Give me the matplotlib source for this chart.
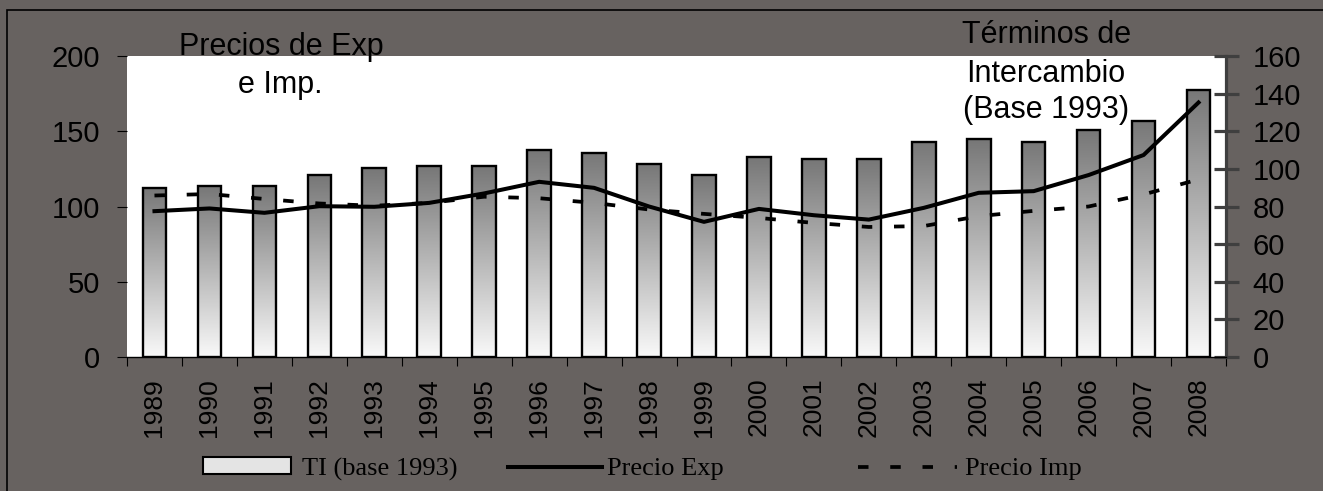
import matplotlib
matplotlib.use("Agg")
import matplotlib.pyplot as plt
import numpy as np
from matplotlib.colors import LinearSegmentedColormap
from matplotlib.patches import Patch, Rectangle
from matplotlib.lines import Line2D

# --- data ---
years = ["1989", "1990", "1991", "1992", "1993", "1994", "1995", "1996", "1997", "1998",
         "1999", "2000", "2001", "2002", "2003", "2004", "2005", "2006", "2007", "2008"]
ti_base93 = [89.6, 90.8, 90.8, 96.7, 100.3, 101.5, 101.5, 110.0, 108.6, 102.8,
             96.7, 106.3, 105.2, 105.2, 114.5, 115.7, 114.5, 120.5, 125.5, 142.0]
precio_exp = [96.9, 98.7, 95.8, 100.2, 99.8, 102.4, 108.7, 116.4, 112.4, 100.0,
              89.8, 98.4, 94.2, 91.3, 99.1, 109.1, 110.2, 120.9, 134.2, 169.1]
precio_imp = [107.3, 108.3, 105.0, 102.0, 100.5, 102.4, 106.5, 105.5, 102.4, 98.0,
              95.1, 92.4, 89.1, 86.4, 87.0, 93.6, 97.1, 100.0, 108.0, 118.0]
left_ticks = [0, 50, 100, 150, 200]
right_ticks = [0, 20, 40, 60, 80, 100, 120, 140, 160]

W, H = 1323, 491
BG = "#676260"
SPINE = "#3f3f3f"
sans = ["Liberation Sans", "DejaVu Sans"]
serif = ["Liberation Serif", "DejaVu Serif"]


def fx(x):
    return x / W


def fy(y):
    return 1 - y / H


fig = plt.figure(figsize=(W / 100, H / 100), dpi=100, facecolor=BG)
# outer frame line
fig.patches.append(Rectangle((fx(7), -0.2), 2, fy(10) + 0.2, transform=fig.transFigure,
                             fill=False, edgecolor="black", lw=1.2))

ax_bar = fig.add_axes([fx(127), fy(357), fx(1226) - fx(127), fy(56) - fy(357)])
ax_bar.set_facecolor("white")
ax_line = ax_bar.twinx()

x = np.arange(len(years))
bw = 0.43

# bars with a vertical grey gradient (dark top, light bottom)
cmap = LinearSegmentedColormap.from_list("g", ["#f9f9f9", "#777777"])
grad = np.linspace(0, 1, 256).reshape(-1, 1)
bars = ax_bar.bar(x, ti_base93, width=bw, facecolor="none", edgecolor="black", lw=1.7, zorder=3)
for b in bars:
    x0, y0 = b.get_x(), b.get_y()
    im = ax_bar.imshow(grad, cmap=cmap, origin="lower", aspect="auto", zorder=2,
                       extent=[x0, x0 + b.get_width(), y0, y0 + b.get_height()])
    im.set_clip_path(b)

ax_bar.set_xlim(-0.5, len(years) - 0.5)
ax_bar.set_ylim(0, 160)
ax_line.set_ylim(0, 200)

# lines on the left axis
ax_line.plot(x, precio_exp, color="black", lw=2.9, solid_joinstyle="round")
ax_line.plot(x, precio_imp, color="black", lw=2.7, dashes=(2.8, 5.8))

# right axis -> bars
ax_bar.yaxis.tick_right()
ax_bar.set_yticks(right_ticks)
ax_bar.tick_params(axis="y", direction="inout", length=18, width=2.3, color=SPINE,
                   pad=10, labelsize=21)
for lab in ax_bar.get_yticklabels():
    lab.set_family(sans)

# left axis -> lines
ax_line.yaxis.tick_left()
ax_line.set_yticks(left_ticks)
ax_line.tick_params(axis="y", direction="out", length=7.5, width=0.8, color="black",
                    pad=12, labelsize=21)
for lab in ax_line.get_yticklabels():
    lab.set_family(sans)

# x axis: ticks on category borders, labels at centres
ax_bar.set_xticks(np.arange(-0.5, len(years), 1))
ax_bar.set_xticklabels([])
ax_bar.set_xticks(x, minor=True)
ax_bar.set_xticklabels(years, minor=True, rotation=90, family=sans, fontsize=19)
ax_bar.tick_params(axis="x", which="major", direction="out", length=6.5, width=0.8)
ax_bar.tick_params(axis="x", which="minor", length=0, pad=15)

for a in (ax_bar, ax_line):
    for side in ("top", "left", "right", "bottom"):
        a.spines[side].set_visible(False)
ax_bar.spines["bottom"].set_visible(True)
ax_bar.spines["bottom"].set_linewidth(1.0)
ax_bar.spines["right"].set_visible(True)
ax_bar.spines["right"].set_color(SPINE)
ax_bar.spines["right"].set_linewidth(2.3)

# annotations
fs_ann = 22
fig.text(fx(281), fy(55), "Precios de Exp", ha="center", va="baseline", fontsize=fs_ann, family=sans)
fig.text(fx(280), fy(93), "e Imp.", ha="center", va="baseline", fontsize=fs_ann, family=sans)
fig.text(fx(1047), fy(43), "Términos de", ha="center", va="baseline", fontsize=fs_ann, family=sans)
fig.text(fx(1046), fy(82), "Intercambio", ha="center", va="baseline", fontsize=fs_ann, family=sans)
fig.text(fx(1046), fy(118), "(Base 1993)", ha="center", va="baseline", fontsize=fs_ann, family=sans)

# legend, one entry at a time so the gaps follow the reference
fs_leg = 19
em = fs_leg * 100 / 72
entries = [
    (Patch(facecolor="#e4e4e4", edgecolor="black", lw=1.5), "TI (base 1993)", 203, 88, 11),
    (Line2D([], [], color="black", lw=2.9), "Precio Exp", 508, 94, 5),
    (Line2D([], [], color="black", lw=2.7, dashes=(2.8, 5.8)), "Precio Imp", 858, 99, 8),
]
for handle, label, xpos, hlen, tpad in entries:
    fig.legend([handle], [label], loc="center left", bbox_to_anchor=(fx(xpos), fy(469)),
               frameon=False, borderpad=0, borderaxespad=0, handlelength=hlen / em,
               handleheight=16 / em, handletextpad=tpad / em,
               prop={"family": serif, "size": fs_leg})

fig.savefig("out.png", dpi=100, facecolor=BG)
